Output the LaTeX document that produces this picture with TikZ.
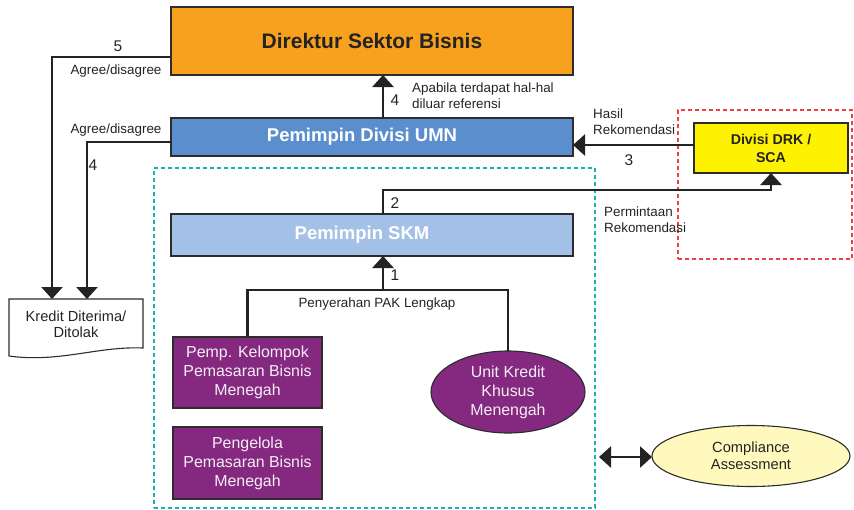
\documentclass[tikz,border=0pt]{standalone}
\usepackage{fontspec}
\setmainfont{Liberation Sans}
\usetikzlibrary{arrows.meta,shapes.geometric}
\definecolor{dirOrange}{RGB}{248,161,30}
\definecolor{umnBlue}{RGB}{91,142,204}
\definecolor{skmBlue}{RGB}{163,193,230}
\definecolor{drkYellow}{RGB}{255,242,0}
\definecolor{unitPurple}{RGB}{132,41,127}
\definecolor{compYellow}{RGB}{255,249,189}
\definecolor{grpCyan}{RGB}{20,180,180}
\definecolor{grpRed}{RGB}{240,64,64}
\definecolor{edge}{RGB}{45,45,45}
\definecolor{ink}{RGB}{35,35,35}
\begin{document}
\begin{tikzpicture}[x=1pt,y=-1pt,
  box/.style={draw=edge,line width=1.1pt,rectangle,inner sep=0pt,outer sep=0pt,align=center},
  conn/.style={draw=ink,line width=2.7pt},
  tip/.tip={Triangle[width=21pt 0,length=12pt 0]},
  arr/.style={-tip},
  lbl/.style={inner sep=0pt,text=ink,font=\fontsize{13.4}{16}\selectfont},
  num/.style={inner sep=0pt,text=ink,font=\fontsize{15.5}{18}\selectfont},
  purp/.style={box,fill=unitPurple,text=white!92!unitPurple,font=\fontsize{15.9}{19}\selectfont},
]
\useasboundingbox (0,0) rectangle (854,509);

% group frames
\node[draw=grpCyan,dashed,dash pattern=on 4pt off 3pt,line width=1.1pt,minimum width=441pt,minimum height=340pt,inner sep=0pt] (grp) at (374.5,338) {};
\node[draw=grpRed,dash pattern=on 4pt off 3pt,line width=1.1pt,minimum width=174pt,minimum height=149pt,inner sep=0pt] (red) at (765,184.5) {};

% main boxes
\node[box,fill=dirOrange,minimum width=402pt,minimum height=68pt,text=ink,font=\bfseries\fontsize{21}{24}\selectfont] (dir) at (372,41) {Direktur Sektor Bisnis};
\node[box,fill=umnBlue,minimum width=402pt,minimum height=38pt,text=white,font=\bfseries\fontsize{18.5}{22}\selectfont] (umn) at (372,137) {\hspace*{-20pt}Pemimpin Divisi UMN};
\node[box,fill=skmBlue,minimum width=402pt,minimum height=42pt,text=white,font=\bfseries\fontsize{18.5}{22}\selectfont] (skm) at (372,235) {\hspace*{-20pt}Pemimpin SKM};
\node[box,fill=drkYellow,minimum width=154pt,minimum height=50pt,text=ink,font=\bfseries\fontsize{14.2}{18}\selectfont] (drk) at (771,148) {Divisi DRK /\\SCA};

\node[purp,minimum width=149pt,minimum height=71pt] (pemp) at (247.5,372.5) {Pemp. Kelompok\\Pemasaran Bisnis\\Menegah};
\node[purp,minimum width=149pt,minimum height=72pt] (peng) at (247.5,463) {Pengelola\\Pemasaran Bisnis\\Menegah};
\node[purp,ellipse,minimum width=154pt,minimum height=82pt] (ukk) at (508,392) {Unit Kredit\\Khusus\\Menengah};
\node[box,ellipse,fill=compYellow,minimum width=198pt,minimum height=61pt,text=ink,font=\fontsize{14.7}{17}\selectfont] (comp) at (751,456) {Compliance\\Assessment};

% document shape
\node[inner sep=0pt,outer sep=0pt,minimum width=134pt,minimum height=50pt,align=center,text=ink,font=\fontsize{14.6}{16}\selectfont] (kredit) at (76,324) {Kredit Diterima/\\Ditolak};
\draw[draw=edge,line width=1.1pt] (kredit.north west) -- (kredit.north east) -- ++(0,49)
  .. controls ++(-45,-2) and ++(50,7) .. ([yshift=-57pt]kredit.north west) -- cycle;

% connector helpers
\coordinate (c5) at (52,57);
\coordinate (c4) at (87,142);
\coordinate (spine) at (383,190);
\coordinate (c3) at (620,145);
\coordinate (c1) at (383,290);
\coordinate (cc) at (599,457);

% connectors
\draw[conn,arr] (dir.west |- c5) -| (c5 |- kredit.north);
\draw[conn,arr] (umn.west |- c4) -| (c4 |- kredit.north);
\draw[conn,arr] (umn.north -| spine) -- (dir.south -| spine);
\draw[conn,arr] (drk.west |- c3) -- (umn.east |- c3);
\draw[conn,arr] (skm.north -| spine) -- (spine) -| (drk.south);
\draw[conn,arr] (c1) -- (skm.south -| c1);
\draw[conn] (pemp.north) |- (ukk.north |- c1) -- (ukk.north);
\draw[conn,tip-tip] (cc) -- (comp.west |- cc);

% labels
\node[num] (n5) at (118,46) {5};
\node[lbl] (ad1) at (116,71) {Agree/disagree};
\node[lbl] (ad2) at (116,130) {Agree/disagree};
\node[num] (n4a) at (93,165) {4};
\node[num] (n4b) at (395,100) {4};
\node[lbl,anchor=west,align=left] (apa) at (412,96) {Apabila terdapat hal-hal\\diluar referensi};
\node[lbl,anchor=west,align=left] (hasil) at (593,122) {Hasil\\Rekomendasi};
\node[num] (n3) at (629,160) {3};
\node[num] (n2) at (395,203) {2};
\node[lbl,anchor=west,align=left] (perm) at (604,220) {Permintaan\\Rekomendasi};
\node[num] (n1) at (395,275) {1};
\node[lbl] (pak) at (377,304) {Penyerahan PAK Lengkap};
\end{tikzpicture}
\end{document}
